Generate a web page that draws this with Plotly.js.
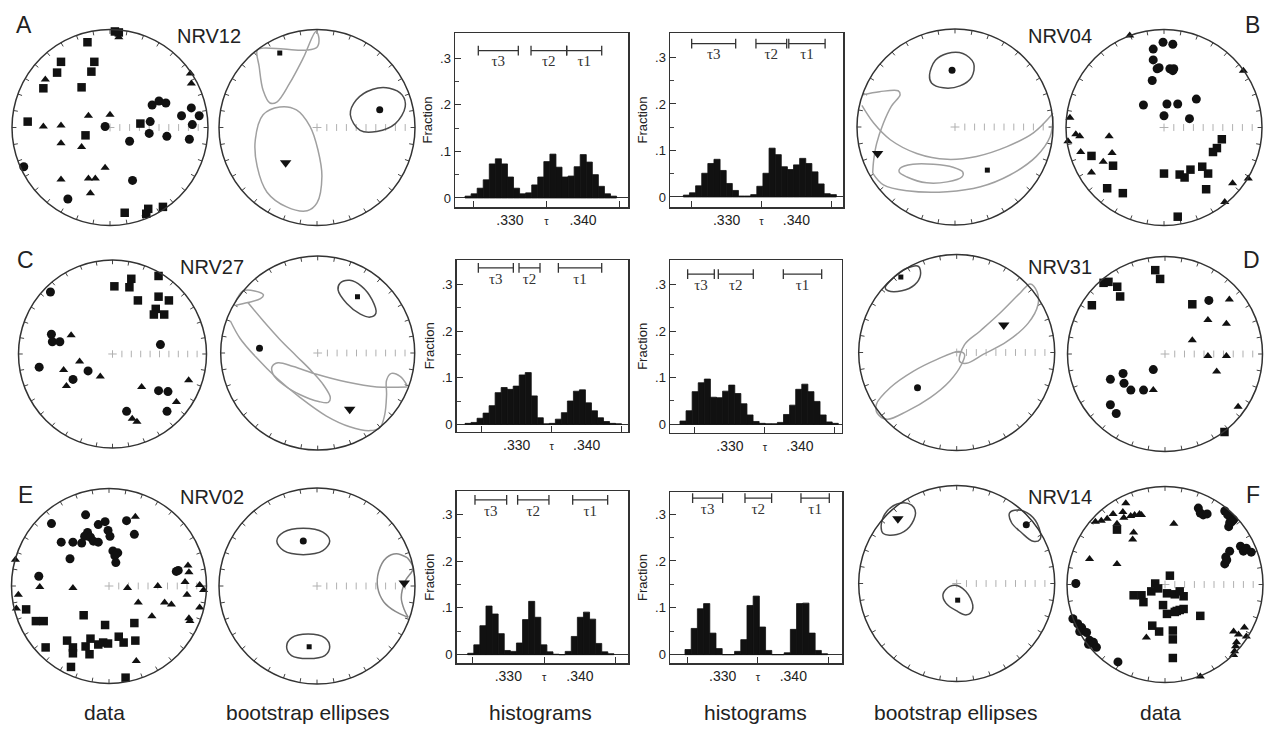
<!DOCTYPE html>
<html><head><meta charset="utf-8">
<script src="https://cdn.plot.ly/plotly-3.0.1.min.js"></script>
<style>html,body{margin:0;padding:0;background:#fff}#chart{width:1264px;height:729px}</style>
</head><body><div id="chart"></div>
<script>
// ===== DATA (equal-area net coordinates, unit radius; x east, y north) =====
// NRV12 (A) data
const aCircX=[0.43,0.50,0.57,0.83,0.73,0.91,0.41,0.84,-0.05,0.40,0.58,0.81,0.20,-0.88,0.23,-0.43];
const aCircY=[0.23,0.27,0.25,0.20,0.12,0.12,0.06,0.03,0.01,-0.06,-0.09,-0.12,-0.14,-0.40,-0.54,-0.73];
const aSqX=[0.05,0.09,-0.23,-0.50,-0.16,-0.54,-0.19,-0.68,-0.29,-0.84,0.31,-0.25,0.15,0.39,0.37,0.54];
const aSqY=[0.98,0.97,0.87,0.67,0.67,0.56,0.57,0.40,0.41,0.06,0.04,-0.08,-0.87,-0.83,-0.88,-0.81];
const aTriX=[0.09,-0.66,0.82,0.83,-0.22,0.00,-0.68,-0.50,-0.50,-0.29,-0.05,-0.50,-0.22,-0.15,-0.20];
const aTriY=[0.92,0.49,0.55,0.45,0.12,0.13,0.01,0.02,-0.16,-0.20,-0.41,-0.53,-0.52,-0.52,-0.67];
// NRV04 (B) data
const bCircX=[-0.01,0.09,-0.11,-0.11,-0.05,-0.07,0.06,0.10,0.09,-0.12,-0.21,0.03,0.14,0.33,0.00,0.26];
const bCircY=[0.87,0.85,0.80,0.69,0.61,0.60,0.60,0.60,0.58,0.48,0.23,0.24,0.24,0.29,0.12,0.09];
const bSqX=[0.59,0.54,0.50,-0.74,-0.52,0.39,0.45,0.27,0.00,0.16,0.21,-0.58,-0.42,0.43,0.14];
const bSqY=[-0.12,-0.21,-0.25,-0.29,-0.39,-0.40,-0.47,-0.43,-0.47,-0.48,-0.51,-0.62,-0.67,-0.63,-0.91];
const bTriX=[-0.35,0.81,-0.96,-0.90,-0.86,-0.98,-0.56,-0.85,-0.53,-0.62,-0.74,0.70,0.86,0.62];
const bTriY=[0.94,0.58,0.10,-0.07,-0.09,-0.14,-0.09,-0.25,-0.26,-0.35,-0.46,-0.57,-0.52,-0.76];
// NRV27 (C) data
const cCircX=[-0.66,-0.65,-0.64,-0.56,0.51,-0.78,-0.26,-0.42,0.49,0.59,0.15,0.58];
const cCircY=[0.66,0.21,0.13,0.13,0.10,-0.14,-0.18,-0.27,-0.39,-0.40,-0.61,-0.61];
const cSqX=[0.20,0.49,0.02,0.18,0.27,0.49,0.60,0.46,0.44,0.55];
const cSqY=[0.80,0.83,0.72,0.71,0.57,0.61,0.57,0.48,0.42,0.42];
const cTriX=[-0.44,-0.35,-0.52,-0.13,-0.49,0.31,0.81,0.68,0.21,0.26];
const cTriY=[0.20,-0.08,-0.17,-0.24,-0.34,-0.35,-0.28,-0.51,-0.69,-0.72];
// NRV31 (D) data
const dCircX=[0.45,-0.12,-0.43,-0.56,-0.42,-0.35,-0.22,-0.56,-0.50];
const dCircY=[0.55,-0.16,-0.20,-0.26,-0.30,-0.37,-0.37,-0.52,-0.61];
const dSqX=[-0.10,-0.05,-0.63,-0.58,-0.49,-0.46,-0.75,0.28,0.61];
const dSqY=[0.86,0.77,0.73,0.74,0.69,0.59,0.50,0.51,-0.80];
const dTriX=[0.66,0.44,0.63,0.28,0.44,0.63,0.53,-0.12,0.75];
const dTriY=[0.56,0.35,0.31,0.14,-0.02,-0.02,-0.18,-0.37,-0.54];
// NRV02 (E) data
const eCircX=[-0.59,-0.24,-0.11,-0.04,0.18,0.26,-0.22,-0.25,-0.19,-0.16,-0.28,-0.37,-0.49,-0.11,-0.01,0.01,0.04,0.09,0.06,0.07,-0.40,-0.72,0.69,0.71];
const eCircY=[0.64,0.73,0.63,0.66,0.67,0.53,0.55,0.51,0.50,0.46,0.44,0.45,0.45,0.45,0.57,0.51,0.36,0.34,0.31,0.24,0.28,0.10,0.15,0.16];
const eSqX=[-0.85,-0.75,-0.67,-0.26,-0.04,0.26,-0.43,-0.37,-0.37,-0.24,-0.19,-0.20,-0.11,-0.06,-0.01,0.10,0.15,0.27,-0.65,-0.39,0.17];
const eSqY=[-0.24,-0.36,-0.36,-0.30,-0.40,-0.38,-0.56,-0.63,-0.69,-0.62,-0.54,-0.70,-0.60,-0.58,-0.59,-0.52,-0.58,-0.56,-0.63,-0.83,-0.94];
const eTriX=[0.27,-0.96,0.81,0.82,-0.71,-0.37,0.19,0.50,0.78,0.93,0.97,-0.93,0.80,0.30,0.57,0.64,-0.95,0.93,0.44,0.82,0.83,0.28];
const eTriY=[0.71,0.27,0.21,0.14,-0.01,-0.02,-0.02,0.00,0.04,0.01,-0.04,-0.09,-0.09,-0.17,-0.17,-0.19,-0.23,-0.22,-0.31,-0.33,-0.36,-0.77];
// NRV14 (F) data
const fCircX=[0.34,0.36,0.39,0.43,0.61,0.64,0.67,0.70,0.65,0.77,0.80,0.83,0.88,0.66,0.62,0.61,0.63,-0.91,-0.94,-0.89,-0.85,-0.87,-0.80,-0.77,-0.73,-0.70,-0.78,-0.48,0.66,0.68];
const fCircY=[0.78,0.73,0.71,0.72,0.75,0.71,0.68,0.66,0.59,0.39,0.34,0.37,0.33,0.34,0.28,0.21,0.25,0.01,-0.35,-0.40,-0.44,-0.48,-0.49,-0.57,-0.59,-0.64,-0.61,-0.79,0.63,0.64];
const fSqX=[0.05,-0.10,-0.07,-0.14,-0.32,-0.24,-0.22,0.02,0.10,0.15,0.19,-0.02,0.02,0.12,0.15,0.19,0.10,0.36,-0.13,-0.06,0.08,0.08,0.08,-0.49];
const fSqY=[0.09,0.01,-0.04,-0.07,-0.11,-0.11,-0.18,-0.09,-0.10,-0.07,-0.12,-0.21,-0.30,-0.27,-0.26,-0.25,-0.28,-0.32,-0.42,-0.48,-0.47,-0.56,-0.75,0.56];
const fTriX=[-0.40,-0.71,-0.65,-0.59,-0.53,-0.43,-0.42,-0.35,-0.31,-0.26,-0.24,-0.49,0.09,-0.32,-0.33,-0.77,-0.49,-0.19,0.70,0.75,0.81,0.83,0.73,0.72,0.71,0.70,0.36];
const fTriY=[0.83,0.64,0.65,0.67,0.72,0.74,0.68,0.70,0.71,0.72,0.71,0.62,0.62,0.53,0.46,0.26,0.21,-0.54,-0.48,-0.51,-0.44,-0.53,-0.59,-0.63,-0.68,-0.72,-0.94];

// ===== Bootstrap means [x,y] and confidence outlines =====
const aMeanCirc=[0.64,0.18], aMeanSq=[-0.38,0.76], aMeanTri=[-0.32,-0.36];
const aOutCircX=[0.34,0.40,0.57,0.74,0.87,0.90,0.80,0.61,0.44,0.34];
const aOutCircY=[0.13,0.28,0.39,0.40,0.33,0.21,0.04,-0.04,-0.03,0.13];
const aOutTriX=[-0.55,-0.38,-0.21,-0.07,0.01,0.05,0.00,-0.10,-0.31,-0.51,-0.61,-0.63,-0.55];
const aOutTriY=[0.13,0.21,0.18,0.01,-0.23,-0.50,-0.77,-0.85,-0.81,-0.66,-0.40,-0.13,0.13];
const aOutSqX=[-0.01,-0.14,-0.28,-0.41,-0.48,-0.55,-0.59,-0.61,-0.55,-0.34,-0.10,0.00,0.02,-0.01];
const aOutSqY=[0.98,0.71,0.45,0.26,0.25,0.38,0.62,0.79,0.81,0.80,0.79,0.82,0.91,0.98];

const bMeanCirc=[-0.03,0.58], bMeanSq=[0.33,-0.44], bMeanTri=[-0.79,-0.27];
const bOutCircX=[-0.26,-0.20,-0.08,0.08,0.19,0.17,0.05,-0.12,-0.24,-0.26];
const bOutCircY=[0.53,0.68,0.75,0.75,0.65,0.51,0.42,0.40,0.45,0.53];
const bOut1X=[-0.94,-0.77,-0.58,-0.56,-0.65,-0.73,-0.80,-0.83,-0.84];
const bOut1Y=[0.33,0.36,0.37,0.33,0.21,0.04,-0.17,-0.34,-0.47];
const bOut2X=[-0.95,-0.83,-0.66,-0.39,-0.08,0.22,0.53,0.80,1.00];
const bOut2Y=[0.22,0.04,-0.13,-0.27,-0.33,-0.30,-0.20,-0.06,0.14];
const bOut3X=[-0.84,-0.73,-0.49,-0.08,0.26,0.56,0.83,0.97,1.00];
const bOut3Y=[-0.47,-0.59,-0.65,-0.66,-0.61,-0.49,-0.30,-0.10,0.11];
const bOut4X=[-0.56,-0.43,-0.22,-0.02,0.08,0.07,-0.08,-0.29,-0.49,-0.57,-0.56];
const bOut4Y=[-0.42,-0.38,-0.38,-0.41,-0.46,-0.51,-0.56,-0.57,-0.51,-0.46,-0.42];

const cMeanCirc=[-0.60,0.05], cMeanSq=[0.41,0.58], cMeanTri=[0.33,-0.58];
const cOutSqX=[0.23,0.33,0.45,0.56,0.60,0.54,0.44,0.30,0.21,0.23];
const cOutSqY=[0.72,0.75,0.69,0.55,0.41,0.37,0.40,0.51,0.65,0.72];
const cOut1X=[-0.85,-0.77,-0.65,-0.56,-0.59,-0.72,-0.85];
const cOut1Y=[0.52,0.64,0.64,0.60,0.56,0.52,0.49];
const cOut2X=[-0.72,-0.56,-0.39,-0.22,-0.06,0.06,0.13,0.11,0.01,-0.18,-0.35,-0.46,-0.47,-0.41,-0.25,-0.01,0.30,0.61,0.92];
const cOut2Y=[0.52,0.33,0.14,-0.03,-0.19,-0.33,-0.46,-0.51,-0.50,-0.43,-0.33,-0.22,-0.14,-0.10,-0.14,-0.22,-0.30,-0.35,-0.35];
const cOut3X=[-0.90,-0.80,-0.63,-0.42,-0.18,0.09,0.33,0.54,0.64,0.69,0.71,0.71,0.76,0.85,0.92];
const cOut3Y=[0.33,0.15,-0.05,-0.26,-0.46,-0.65,-0.76,-0.80,-0.77,-0.64,-0.43,-0.28,-0.21,-0.24,-0.33];

const dMeanCirc=[-0.40,-0.36], dMeanSq=[-0.57,0.77], dMeanTri=[0.48,0.28];
const dOutSqX=[-0.73,-0.65,-0.51,-0.39,-0.37,-0.43,-0.56,-0.70,-0.73];
const dOutSqY=[0.66,0.76,0.86,0.88,0.79,0.69,0.63,0.63,0.66];
const dOutTriX=[0.03,0.08,0.24,0.44,0.65,0.75,0.82,0.83,0.73,0.51,0.27,0.10,0.03];
const dOutTriY=[-0.09,0.08,0.22,0.40,0.61,0.70,0.62,0.49,0.30,0.11,-0.02,-0.11,-0.09];
const dOutCircX=[-0.82,-0.68,-0.44,-0.20,0.02,0.08,0.05,-0.07,-0.27,-0.51,-0.71,-0.81,-0.82];
const dOutCircY=[-0.53,-0.36,-0.19,-0.07,0.01,-0.02,-0.12,-0.29,-0.46,-0.60,-0.68,-0.62,-0.53];

const eMeanCirc=[-0.14,0.46], eMeanSq=[-0.08,-0.62], eMeanTri=[0.89,0.03];
const eOutCircX=[-0.41,-0.34,-0.14,0.06,0.13,0.06,-0.14,-0.34,-0.41];
const eOutCircY=[0.46,0.55,0.59,0.55,0.46,0.36,0.32,0.36,0.46];
const eOutSqX=[-0.31,-0.26,-0.09,0.08,0.13,0.08,-0.09,-0.26,-0.31];
const eOutSqY=[-0.62,-0.53,-0.49,-0.53,-0.62,-0.71,-0.74,-0.71,-0.62];
const eOutTri1X=[0.92,0.81,0.71,0.63,0.62,0.68,0.80,0.93];
const eOutTri1Y=[0.29,0.33,0.29,0.15,-0.02,-0.16,-0.26,-0.32];
const eOutTri2X=[0.92,0.98,0.90,0.86,0.89,0.93];
const eOutTri2Y=[0.29,0.18,0.05,-0.12,-0.24,-0.32];

const fMeanCirc=[0.71,0.60], fMeanSq=[0.01,-0.17], fMeanTri=[-0.60,0.66];
const fOutTriX=[-0.77,-0.71,-0.58,-0.46,-0.42,-0.48,-0.61,-0.75,-0.77];
const fOutTriY=[0.60,0.74,0.82,0.80,0.72,0.58,0.50,0.51,0.60];
const fOutCircX=[0.54,0.63,0.75,0.84,0.85,0.78,0.66,0.56,0.54];
const fOutCircY=[0.72,0.75,0.70,0.57,0.45,0.43,0.52,0.62,0.72];
const fOutSqX=[-0.14,-0.07,0.03,0.14,0.16,0.10,0.00,-0.11,-0.14];
const fOutSqY=[-0.11,-0.03,-0.03,-0.15,-0.27,-0.32,-0.28,-0.20,-0.11];

// ===== Histograms of bootstrapped eigenvalues (fraction per bin) =====
const fracA1=[.004,.009,.021,.039,.073,.084,.073,.045,.021,.009,.011,.028,.045,.078,.094,.066,.045,.047,.067,.093,.077,.050,.025,.009,.004];
const fracB1=[.004,.009,.024,.051,.072,.081,.057,.029,.014,.002,.002,.005,.023,.051,.105,.091,.065,.059,.069,.083,.072,.054,.028,.007,.005];
const fracC1=[.002,.004,.013,.024,.040,.068,.079,.075,.082,.106,.111,.061,.014,.001,.002,.011,.025,.050,.071,.074,.046,.029,.014,.006,.002,.001];
const fracD1=[.007,.029,.070,.089,.097,.058,.057,.071,.084,.066,.044,.020,.006,.002,.001,.001,.004,.021,.041,.075,.086,.070,.049,.020,.005,.002];
const fracE1=[.003,.021,.062,.104,.087,.045,.009,.007,.025,.075,.114,.080,.021,.006,.001,0,.007,.039,.080,.091,.076,.024,.006,.002];
const fracF1=[.011,.056,.098,.109,.046,.013,0,0,.007,.032,.105,.125,.059,.009,0,0,.004,.054,.109,.110,.046,.009,.002];
// first bin centre and bin width (tau)
const binA1=[.32426,.00083], binB1=[.32425,.000876], binC1=[.32305,.00086];
const binD1=[.32329,.00087], binE1=[.32476,.00085], binF1=[.32511,.000877];
// confidence intervals [tau3, tau2, tau1]
const ciA1=[[.32566,.33114],[.33288,.33776],[.33776,.34256]];
const ciB1=[[.3250,.3313],[.3342,.3386],[.3389,.3441]];
const ciC1=[[.32452,.32952],[.33033,.33333],[.33595,.34214]];
const ciD1=[[.32395,.32776],[.32833,.33333],[.33762,.34310]];
const ciE1=[[.32535,.32977],[.33130,.33567],[.33898,.34386]];
const ciF1=[[.32575,.33000],[.33316,.33693],[.34108,.34509]];
const ciLabels=['τ3','τ2','τ1'];
const tickVals=[.33,.335,.34], tickText=['.330','<span style="font-size:11px">τ</span>','.340'];
const yTickVals=[0,.1,.2,.3], yTickText=['0','.1','.2','.3'];

// ===== BUILD =====
const W=1264,H=729;
const layout={width:W,height:H,margin:{l:0,r:0,t:0,b:0},paper_bgcolor:'#fff',plot_bgcolor:'rgba(0,0,0,0)',
  showlegend:false,shapes:[],annotations:[],barmode:'overlay',
  font:{family:'"Liberation Sans", Arial, sans-serif',color:'#222'}};
const traces=[];
let nAx=0;
function newAxes(){nAx++;const s=nAx===1?'':String(nAx);return {xa:'xaxis'+s,ya:'yaxis'+s,x:'x'+s,y:'y'+s};}

function addNet(cx,cy,r){
  const a=newAxes(), pad=1.08;
  const pxL=Math.max(0,cx-pad*r), pxR=Math.min(W,cx+pad*r);
  const pyT=Math.max(0,cy-pad*r), pyB=Math.min(H,cy+pad*r);
  layout[a.xa]={domain:[pxL/W,pxR/W],range:[(pxL-cx)/r,(pxR-cx)/r],visible:false,fixedrange:true,anchor:a.y};
  layout[a.ya]={domain:[(H-pyB)/H,(H-pyT)/H],range:[(cy-pyB)/r,(cy-pyT)/r],visible:false,fixedrange:true,anchor:a.x};
  layout.shapes.push({type:'circle',xref:a.x,yref:a.y,x0:-1,x1:1,y0:-1,y1:1,line:{color:'#333',width:1.5}});
  const tx=[],ty=[];
  for(let d=0;d<360;d+=10){const t=d*Math.PI/180;tx.push(Math.sin(t),0.955*Math.sin(t),null);ty.push(Math.cos(t),0.955*Math.cos(t),null);}
  traces.push({type:'scatter',mode:'lines',x:tx,y:ty,xaxis:a.x,yaxis:a.y,line:{color:'#444',width:1},hoverinfo:'skip',cliponaxis:false});
  const sx=[],sy=[];
  for(let i=1;i<=9;i++){sx.push(i/10,i/10,null);sy.push(-0.035,0.035,null);}
  sx.push(-0.045,0.045,null,0,0,null);sy.push(0,0,null,-0.04,0.04,null);
  traces.push({type:'scatter',mode:'lines',x:sx,y:sy,xaxis:a.x,yaxis:a.y,line:{color:'#b0b0b0',width:1},hoverinfo:'skip'});
  return a;
}
function pts(a,X,Y,sym,size){
  traces.push({type:'scatter',mode:'markers',x:X,y:Y,xaxis:a.x,yaxis:a.y,cliponaxis:false,hoverinfo:'skip',
    marker:{symbol:sym,size:size,color:'#111',line:{width:0}}});
}
function mean(a,p,sym,size){pts(a,[p[0]],[p[1]],sym,size);}
function outline(a,X,Y,col){
  traces.push({type:'scatter',mode:'lines',x:X,y:Y,xaxis:a.x,yaxis:a.y,hoverinfo:'skip',cliponaxis:false,
    line:{color:col,width:1.5,shape:'spline',smoothing:1}});
}
const DARK='#4a4a4a', GRAY='#a0a0a0';
function dataNet(cx,cy,r,cX,cY,sX,sY,tX,tY){
  const a=addNet(cx,cy,r);
  pts(a,sX,sY,'square',8.5);pts(a,tX,tY,'triangle-up',8);pts(a,cX,cY,'circle',9);
}

function addHist(box,xr,yr,frac,bin,ci,lev){
  const a=newAxes();
  layout[a.xa]={domain:[box[0]/W,box[1]/W],range:xr,anchor:a.y,showline:true,mirror:true,linecolor:'#333',linewidth:1.5,
    tickmode:'array',tickvals:tickVals,ticktext:tickText,ticks:'',tickfont:{size:14,color:'#222'},
    minor:{tickmode:'array',tickvals:[.325,.335,.345],ticks:'inside',ticklen:6,tickcolor:'#333',tickwidth:1},
    showgrid:false,zeroline:false,fixedrange:true};
  layout[a.ya]={domain:[(H-box[3])/H,(H-box[2])/H],range:yr,anchor:a.x,showline:true,mirror:true,linecolor:'#333',linewidth:1.5,
    tickmode:'array',tickvals:yTickVals,ticktext:yTickText,ticks:'inside',ticklen:6,tickcolor:'#333',tickfont:{size:13,color:'#222'},
    minor:{tickmode:'array',tickvals:[.05,.15,.25],ticks:'inside',ticklen:4,tickcolor:'#444'},
    showgrid:false,zeroline:true,zerolinecolor:'#333',zerolinewidth:1,fixedrange:true,
    title:{text:'Fraction',font:{size:13,color:'#222'},standoff:4}};
  traces.push({type:'bar',x0:bin[0],dx:bin[1],y:frac,width:bin[1],xaxis:a.x,yaxis:a.y,hoverinfo:'skip',
    marker:{color:'#111',line:{width:0.8,color:'#111'}}});
  const ix=[],iy=[],lx=[],ly=[];
  ci.forEach(c=>{ix.push(c[0],c[1],null);iy.push(lev,lev,null);lx.push((c[0]+c[1])/2);ly.push(lev-0.026);});
  traces.push({type:'scatter',mode:'lines+markers',x:ix,y:iy,xaxis:a.x,yaxis:a.y,hoverinfo:'skip',
    line:{color:'#333',width:1.3},marker:{symbol:'line-ns-open',size:7,color:'#333',line:{width:1.3,color:'#333'}}});
  traces.push({type:'scatter',mode:'text',x:lx,y:ly,text:ciLabels,xaxis:a.x,yaxis:a.y,hoverinfo:'skip',
    textfont:{family:'"Liberation Serif","DejaVu Serif",serif',size:15,color:'#333'}});
}

// Row 1
dataNet(110,127.5,98,aCircX,aCircY,aSqX,aSqY,aTriX,aTriY);
{const a=addNet(317,127.5,98);
 outline(a,aOutSqX,aOutSqY,GRAY);outline(a,aOutTriX,aOutTriY,GRAY);outline(a,aOutCircX,aOutCircY,DARK);
 mean(a,aMeanCirc,'circle',7);mean(a,aMeanSq,'square',5);mean(a,aMeanTri,'triangle-down',10);}
addHist([455,628,33,207],[.32247,.34616],[-.0193,.3536],fracA1,binA1,ciA1,.316);
addHist([670,843,33,207],[.32190,.34666],[-.0216,.3527],fracB1,binB1,ciB1,.330);
{const a=addNet(955,127,98);
 outline(a,bOut1X,bOut1Y,GRAY);outline(a,bOut2X,bOut2Y,GRAY);outline(a,bOut3X,bOut3Y,GRAY);outline(a,bOut4X,bOut4Y,GRAY);
 outline(a,bOutCircX,bOutCircY,DARK);
 mean(a,bMeanCirc,'circle',7);mean(a,bMeanSq,'square',5);mean(a,bMeanTri,'triangle-down',10);}
dataNet(1164,127.5,98,bCircX,bCircY,bSqX,bSqY,bTriX,bTriY);

// Row 2
dataNet(112.5,354,94,cCircX,cCircY,cSqX,cSqY,cTriX,cTriY);
{const a=addNet(317.7,353,97);
 outline(a,cOut1X,cOut1Y,GRAY);outline(a,cOut2X,cOut2Y,GRAY);outline(a,cOut3X,cOut3Y,GRAY);
 outline(a,cOutSqX,cOutSqY,DARK);
 mean(a,cMeanCirc,'circle',7);mean(a,cMeanSq,'square',5);mean(a,cMeanTri,'triangle-down',10);}
addHist([456.7,628.3,260,431.7],[.32143,.34594],[-.0159,.3528],fracC1,binC1,ciC1,.336);
addHist([670,841.7,260,432.7],[.32143,.34596],[-.0181,.3524],fracD1,binD1,ciD1,.322);
{const a=addNet(956.7,352.5,98);
 outline(a,dOutTriX,dOutTriY,GRAY);outline(a,dOutCircX,dOutCircY,GRAY);outline(a,dOutSqX,dOutSqY,DARK);
 mean(a,dMeanCirc,'circle',7);mean(a,dMeanSq,'square',5);mean(a,dMeanTri,'triangle-down',10);}
dataNet(1165,354,97.5,dCircX,dCircY,dSqX,dSqY,dTriX,dTriY);

// Row 3
dataNet(109,586,97.5,eCircX,eCircY,eSqX,eSqY,eTriX,eTriY);
{const a=addNet(317,586,98);
 outline(a,eOutTri1X,eOutTri1Y,'#8a8a8a');outline(a,eOutTri2X,eOutTri2Y,'#8a8a8a');
 outline(a,eOutCircX,eOutCircY,DARK);outline(a,eOutSqX,eOutSqY,DARK);
 mean(a,eMeanCirc,'circle',7);mean(a,eMeanSq,'square',5);mean(a,eMeanTri,'triangle-down',10);}
addHist([456.7,628.3,491.3,663],[.32280,.34674],[-.0178,.3494],fracE1,binE1,ciE1,.331);
addHist([670,842.3,492,663],[.32255,.34693],[-.0178,.3472],fracF1,binF1,ciF1,.334);
{const a=addNet(956.7,583.5,98);
 outline(a,fOutTriX,fOutTriY,DARK);outline(a,fOutCircX,fOutCircY,DARK);outline(a,fOutSqX,fOutSqY,DARK);
 mean(a,fMeanCirc,'circle',7);mean(a,fMeanSq,'square',5);mean(a,fMeanTri,'triangle-down',10);}
dataNet(1165,584.5,98,fCircX,fCircY,fSqX,fSqY,fTriX,fTriY);

// Text
function ann(text,px,py,size,anchor){
  layout.annotations.push({text:text,xref:'paper',yref:'paper',x:px/W,y:1-py/H,xanchor:anchor||'center',yanchor:'middle',
    showarrow:false,font:{size:size,color:'#222'}});
}
ann('A',24,25,23);ann('B',1262,25,23,'right');
ann('C',25,259.5,23);ann('D',1262,259.5,23,'right');
ann('E',25,494.5,23);ann('F',1262,494.5,23,'right');
ann('NRV12',209,36,20);ann('NRV04',1060,36,20);
ann('NRV27',212,266.5,20);ann('NRV31',1060,266.5,20);
ann('NRV02',212,497,20);ann('NRV14',1060,497,20);
ann('data',104,712,21);ann('bootstrap ellipses',307,712,21);
ann('histograms',540,712,21);ann('histograms',755,712,21);
ann('bootstrap ellipses',955,712,21);ann('data',1160,712,21);

Plotly.newPlot('chart',traces,layout,{staticPlot:true,displayModeBar:false});
</script></body></html>
